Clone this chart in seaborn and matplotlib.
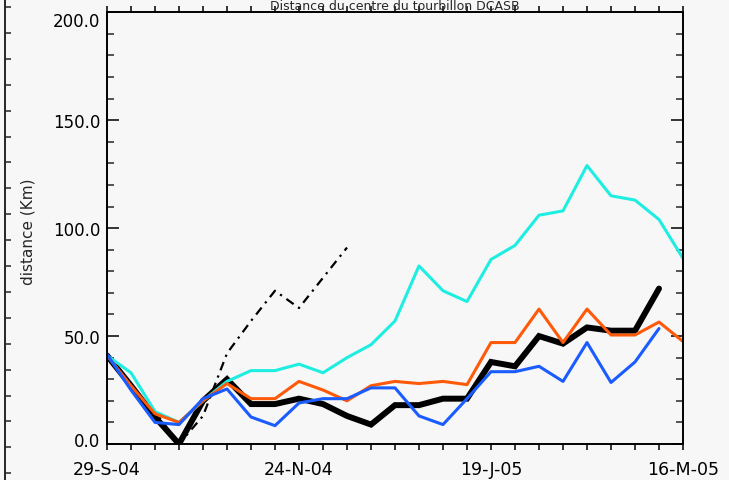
import numpy as np
import pandas as pd
import matplotlib
matplotlib.use("Agg")
import matplotlib.pyplot as plt
import matplotlib.dates as mdates
from matplotlib.ticker import FixedLocator, MultipleLocator
from matplotlib.transforms import ScaledTranslation
import seaborn as sns

# Weekly distances (km) from the eddy centre, starting 29 Sep 2004
start_date = "2004-09-29"
cyan_km = [41, 33, 15, 10, 20, 29, 34, 34, 37, 33, 40, 46, 57, 82.5, 71, 66,
           85.5, 92, 106, 108, 129, 115, 113, 104, 86]
orange_km = [41, 27, 14, 10, 20, 28, 21, 21, 29, 25, 20, 27, 29, 28, 29, 27.5,
             47, 47, 62.5, 47, 62.5, 50.5, 50.5, 56.5, 47.5]
blue_km = [41.5, 25, 10, 9, 21, 25.5, 12.5, 8.5, 19, 21, 21, 26, 26, 13, 9, 21,
           33.5, 33.5, 36, 29, 47, 28.5, 38, 53.5]
black_km = [41, 27, 12.5, 0, 20, 30, 18.5, 18.5, 21, 18.5, 13, 9, 18, 18, 21, 21,
            38, 36, 50, 46.5, 54, 52.5, 52.5, 72]
dashdot_km = [41, 27, 15, 0, 13, 42, 57, 71, 63, 77, 91]

xtick_dates = ["2004-09-29", "2004-11-24", "2005-01-19", "2005-03-16"]
xtick_labels = ["29-S-04", "24-N-04", "19-J-05", "16-M-05"]
ytick_values = [0, 50, 100, 150, 200]
ytick_labels = ["0.0", "50.0", "100.0", "150.0", "200.0"]

title = "Distance du centre du tourbillon DCASB"
ylabel = "distance (Km)"

sns.set_style("ticks")
plt.rcParams["font.family"] = ["DejaVu Sans"]
bg = "#f7f7f7"

fig = plt.figure(figsize=(7.29, 4.81), dpi=100, facecolor=bg)
ax = fig.add_axes([107 / 729, 1 - 445 / 481, 576 / 729, 431.7 / 481])
ax.set_facecolor(bg)


def weeks(values):
    return pd.date_range(start_date, periods=len(values), freq="7D")


sns.lineplot(x=weeks(black_km), y=black_km, ax=ax, color="black",
             linewidth=4.3, solid_joinstyle="miter")
sns.lineplot(x=weeks(dashdot_km), y=dashdot_km, ax=ax, color="black",
             linewidth=1.6, linestyle=(0, (4, 2.5, 1, 2.5)))
sns.lineplot(x=weeks(cyan_km), y=cyan_km, ax=ax, color="#1eeee2", linewidth=2.2)
sns.lineplot(x=weeks(orange_km), y=orange_km, ax=ax, color="#ff5a0a", linewidth=2.2)
sns.lineplot(x=weeks(blue_km), y=blue_km, ax=ax, color="#1a5cff", linewidth=2.2)

xt = pd.to_datetime(xtick_dates)
ax.set_xlim(xt[0], xt[-1])
ax.set_ylim(ytick_values[0], ytick_values[-1])

ax.xaxis.set_major_locator(FixedLocator(mdates.date2num(xt)))
ax.xaxis.set_minor_locator(FixedLocator(
    mdates.date2num(pd.date_range(xt[0], xt[-1], freq="7D"))))
ax.set_xticklabels(xtick_labels)
ax.yaxis.set_major_locator(FixedLocator(ytick_values))
ax.yaxis.set_minor_locator(MultipleLocator(10))
ax.set_yticklabels(ytick_labels)

for s in ax.spines.values():
    s.set_linewidth(1.4)
    s.set_color("black")

ax.tick_params(axis="x", which="both", direction="out", top=True, bottom=True,
               length=4.5, width=1.1, labelsize=12.5, pad=7, colors="black")
ax.tick_params(axis="y", which="major", direction="in", left=True, right=True,
               length=8.5, width=1.1, labelsize=12, pad=5, colors="black")
ax.tick_params(axis="y", which="minor", direction="in", left=True, right=True,
               length=4.8, width=1.1)

ax.set_xlabel("")
ax.set_ylabel(ylabel, fontsize=11)
ax.yaxis.label.set_va("center")
ax.yaxis.set_label_coords(-0.137, 0.495)

# keep the end labels of the y axis inside the frame
fig.canvas.draw()
yticks = ax.yaxis.get_major_ticks()
yticks[0].label1.set_transform(yticks[0].label1.get_transform()
                               + ScaledTranslation(0, 0.05, fig.dpi_scale_trans))
yticks[-1].label1.set_transform(yticks[-1].label1.get_transform()
                                + ScaledTranslation(0, -0.07, fig.dpi_scale_trans))

# title squeezed into the narrow strip above the frame
fig.text(395 / 729, 1 - 0.5 / 481, title, ha="center", va="top", fontsize=9)

# frame edge of the neighbouring panel on the far left
edge = fig.add_axes([5 / 729, 0, 0.0005, 1])
edge.set_ylim(481, 0)
edge.patch.set_visible(False)
for k in ("top", "right", "bottom"):
    edge.spines[k].set_visible(False)
edge.spines["left"].set_linewidth(1.4)
edge.set_xticks([])
edge.yaxis.set_major_locator(FixedLocator(np.arange(8, 481, 25.9)))
edge.tick_params(axis="y", direction="in", length=4.5, width=1.1, labelleft=False)

fig.savefig("out.png", dpi=100, facecolor=bg)
